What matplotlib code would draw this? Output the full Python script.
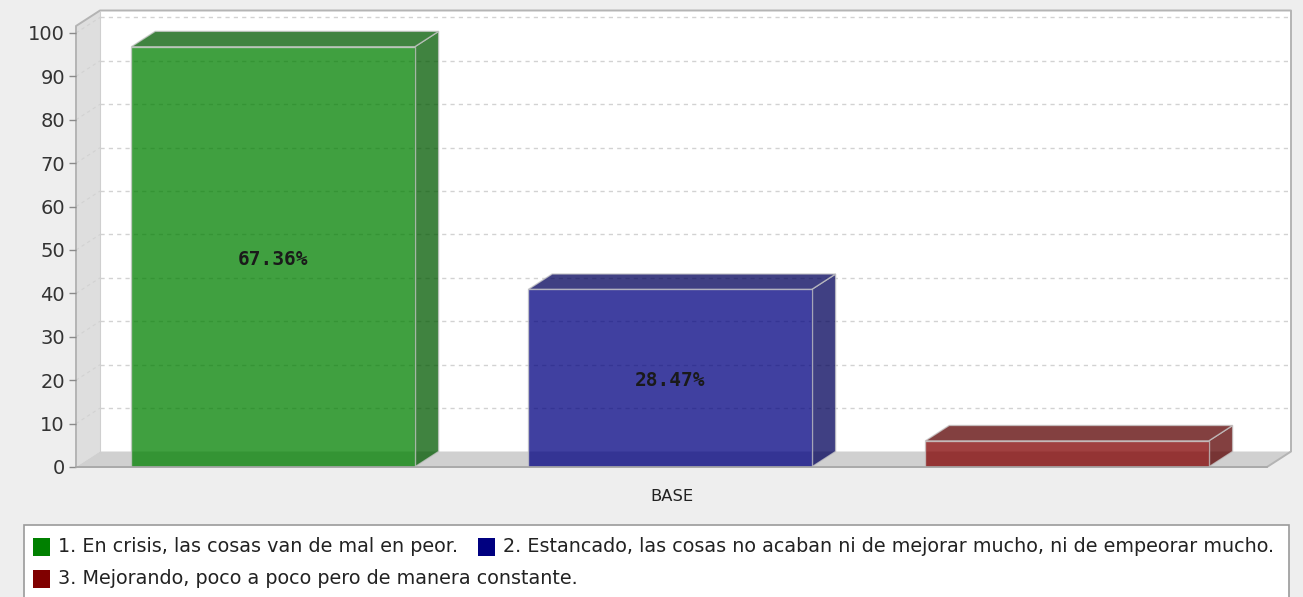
import matplotlib
matplotlib.use("Agg")
import matplotlib.pyplot as plt
from matplotlib.patches import Polygon, Rectangle
import numpy as np

plt.rcParams["font.family"] = ["DejaVu Sans"]

# ---------------- data ----------------
category = "BASE"
series_labels = [
    "1. En crisis, las cosas van de mal en peor.",
    "2. Estancado, las cosas no acaban ni de mejorar mucho, ni de empeorar mucho.",
    "3. Mejorando, poco a poco pero de manera constante.",
]
bar_heights = [96.8, 40.9, 6.0]          # heights as read on the value axis
value_labels = ["67.36%", "28.47%", ""]  # labels printed on the bars
series_colors = [(0.0, 0.5, 0.0), (0.0, 0.0, 0.5), (0.5, 0.0, 0.0)]
y_ticks = list(range(0, 101, 10))

# ---------------- layout ----------------
W, H, DPI = 1303, 597, 100
fig = plt.figure(figsize=(W / DPI, H / DPI), dpi=DPI)
fig.patch.set_facecolor("#EEEEEE")

x_left, x_right = 76, 1267       # front plane, pixels
y_base, y_top = 467, 26          # front plane, pixels from top
ax = fig.add_axes([x_left / W, (H - y_base) / H, (x_right - x_left) / W, (y_base - y_top) / H])
ymax = 101.6
ax.set_xlim(-1.5, 1.5)
ax.set_ylim(0, ymax)
ax.patch.set_visible(False)
for s in ax.spines.values():
    s.set_visible(False)

fig.canvas.draw()
# depth offset (pixels) converted into data units
DX_PX, DY_PX = 24, 15.5
p0 = ax.transData.transform((0, 0))
inv = ax.transData.inverted()
ddx, ddy = inv.transform(p0 + np.array([DX_PX, DY_PX]))

x0, x1 = ax.get_xlim()

def poly(pts, **kw):
    p = Polygon(pts, closed=True, clip_on=False, **kw)
    ax.add_patch(p)
    return p

# back wall
poly([(x0 + ddx, ddy), (x1 + ddx, ddy), (x1 + ddx, ymax + ddy), (x0 + ddx, ymax + ddy)],
     facecolor="white", edgecolor="none", zorder=0)
# left wall
poly([(x0, 0), (x0 + ddx, ddy), (x0 + ddx, ymax + ddy), (x0, ymax)],
     facecolor="#DEDEDE", edgecolor="none", zorder=0.1)
# floor
poly([(x0, 0), (x1, 0), (x1 + ddx, ddy), (x0 + ddx, ddy)],
     facecolor="#D0D0D0", edgecolor="none", zorder=0.1)

# gridlines on walls
for v in y_ticks[1:]:
    ax.plot([x0 + ddx, x1 + ddx], [v + ddy, v + ddy], color="#D2D2D2", lw=1,
            ls=(0, (3, 3)), clip_on=False, zorder=0.2)
    ax.plot([x0, x0 + ddx], [v, v + ddy], color="#D2D2D2", lw=0.8,
            ls=(0, (3, 3)), clip_on=False, zorder=0.2)

# outline of the 3D box
ax.plot([x0, x0, x0 + ddx, x1 + ddx, x1 + ddx, x1, x0],
        [0, ymax, ymax + ddy, ymax + ddy, ddy, 0, 0],
        color="#B4B4B4", lw=1.4, clip_on=False, zorder=0.3)
ax.plot([x0 + ddx, x0 + ddx], [ddy, ymax + ddy], color="#CFCFCF", lw=0.8, clip_on=False, zorder=0.3)

# bars
positions = np.arange(len(bar_heights)) - 1.0
bw = 0.714
alpha = 0.75
for i, (pos, h, c) in enumerate(zip(positions, bar_heights, series_colors)):
    pos = pos - 0.004
    bl, br = pos - bw / 2, pos + bw / 2
    dark = tuple(np.array(c) * 0.7)
    ec = "#C8C8C8"
    # right face
    poly([(br, 0), (br + ddx, ddy), (br + ddx, h + ddy), (br, h)],
         facecolor=dark, alpha=alpha, edgecolor=ec, lw=1, zorder=2)
    # top face
    poly([(bl, h), (br, h), (br + ddx, h + ddy), (bl + ddx, h + ddy)],
         facecolor=dark, alpha=alpha, edgecolor=ec, lw=1, zorder=2)
    # front face
    ax.bar(pos, h, width=bw, color=c, alpha=alpha, edgecolor=ec, lw=1, zorder=3)
    if value_labels[i]:
        ax.text(pos, h / 2 - 0.5, value_labels[i], ha="center", va="center",
                fontsize=14, fontweight="bold", family="DejaVu Sans Mono",
                color="#1A1A1A", zorder=5)

# axes ticks
ax.set_yticks(y_ticks)
ax.set_yticklabels([str(t) for t in y_ticks])
ax.tick_params(axis="y", length=5, width=1, color="#8A8A8A", labelsize=14,
               labelcolor="#333333", pad=3)
ax.set_xticks([0])
ax.set_xticklabels([category])
ax.tick_params(axis="x", length=0, labelsize=11.8, labelcolor="#222222", pad=16)
ax.plot([x0, x1], [0, 0], color="#A8A8A8", lw=1.2, clip_on=False, zorder=4)

# ---------------- legend (manual flow layout) ----------------
def fx(px):
    return px / W

def fy(py):
    return 1 - py / H

fig.patches.append(Rectangle((fx(24), fy(600)), fx(1289) - fx(24), fy(525) - fy(600),
                             transform=fig.transFigure, facecolor="white",
                             edgecolor="#9A9A9A", lw=1.2))
entries = [(33, 547, 0), (478, 547, 1), (33, 579, 2)]
for px, py, k in entries:
    fig.patches.append(Rectangle((fx(px), fy(py + 9)), 17 / W, 18 / H,
                                 transform=fig.transFigure,
                                 facecolor=series_colors[k], edgecolor="none"))
    fig.text(fx(px + 25), fy(py), series_labels[k], fontsize=13.8, color="#222222",
             ha="left", va="center")

fig.savefig("out.png", dpi=DPI, facecolor=fig.get_facecolor())
